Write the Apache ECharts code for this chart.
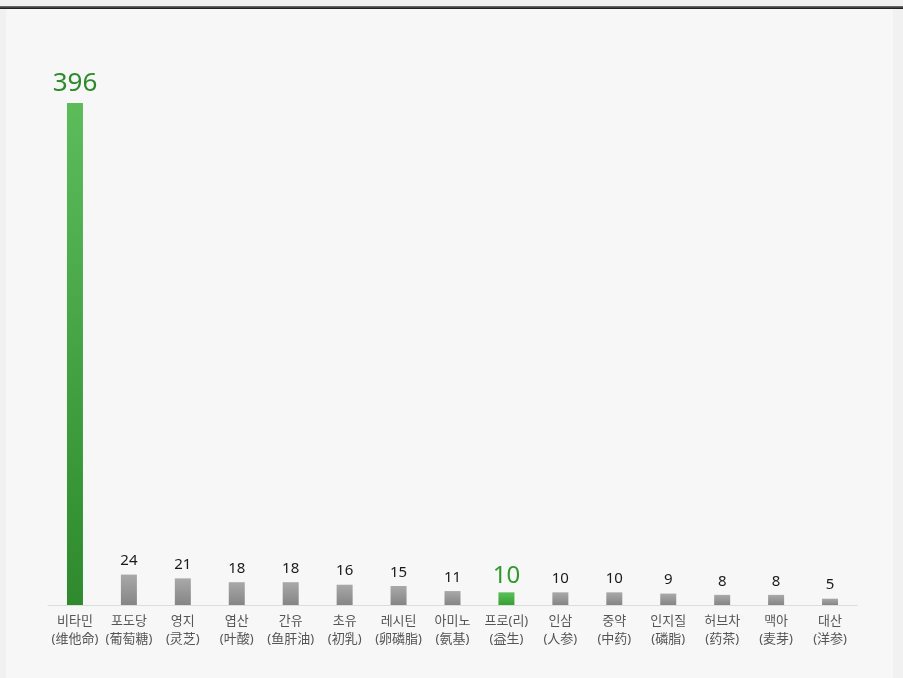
<!DOCTYPE html>
<html>
<head>
<meta charset="utf-8">
<script src="https://cdn.jsdelivr.net/npm/echarts@6/dist/echarts.min.js"></script>
<style>
  html, body { margin: 0; padding: 0; width: 903px; height: 678px; background: #f1f1f1; overflow: hidden; }
  #topline { position: absolute; left: 0; top: 6px; width: 903px; height: 3px; background: linear-gradient(#777, #111); }
  #panel { position: absolute; left: 6px; top: 9px; width: 887px; height: 669px; background: #f7f7f7; }
  #chart { position: absolute; left: 0; top: 0; width: 903px; height: 678px; }
</style>
</head>
<body>
<div id="topline"></div>
<div id="panel"></div>
<div id="chart"></div>
<script>
// Korean names with Chinese names in parentheses
const namesKo = ['비타민', '포도당', '영지', '엽산', '간유', '초유', '레시틴', '아미노', '프로(리)', '인삼', '중약', '인지질', '허브차', '맥아', '대산'];
const namesZh = ['(维他命)', '(葡萄糖)', '(灵芝)', '(叶酸)', '(鱼肝油)', '(初乳)', '(卵磷脂)', '(氨基)', '(益生)', '(人参)', '(中药)', '(磷脂)', '(药茶)', '(麦芽)', '(洋参)'];
const counts = [396, 24, 21, 18, 18, 16, 15, 11, 10, 10, 10, 9, 8, 8, 5];
const highlighted = [0, 8];

const FONT = '"Noto Sans", "Noto Sans CJK KR", sans-serif';

const grayFill = new echarts.graphic.LinearGradient(0, 0, 0, 1, [
  { offset: 0, color: '#a9a9a9' },
  { offset: 1, color: '#858585' }
]);
const bigGreen = new echarts.graphic.LinearGradient(0, 0, 0, 1, [
  { offset: 0, color: '#5cbc5a' },
  { offset: 1, color: '#2e8a2c' }
]);
const smallGreen = new echarts.graphic.LinearGradient(0, 0, 0, 1, [
  { offset: 0, color: '#5cc05a' },
  { offset: 1, color: '#36a033' }
]);

const barData = counts.map((v, i) => {
  const item = { value: v };
  if (i === 0) {
    item.itemStyle = { color: bigGreen };
    item.label = { color: '#2e8a2c', fontSize: 26, distance: 6 };
  } else if (highlighted.includes(i)) {
    item.itemStyle = { color: smallGreen };
    item.label = { color: '#2e9a2c', fontSize: 24, distance: 4 };
  }
  return item;
});

const chart = echarts.init(document.getElementById('chart'));
chart.setOption({
  animation: false,
  backgroundColor: 'transparent',
  grid: { left: 48, right: 46, top: 103, bottom: 73 },
  xAxis: {
    type: 'category',
    data: namesKo.map((k, i) => k + '\n' + namesZh[i]),
    axisLine: { lineStyle: { color: '#dcdcdc', width: 1 } },
    axisTick: { show: false },
    axisLabel: {
      color: '#555',
      fontFamily: FONT,
      fontSize: 13,
      lineHeight: 18,
      margin: 7,
      interval: 0
    }
  },
  yAxis: {
    type: 'value',
    min: 0,
    max: 396,
    show: false,
    splitLine: { show: false }
  },
  series: [{
    type: 'bar',
    data: barData,
    barWidth: 16,
    itemStyle: { color: grayFill },
    label: {
      show: true,
      position: 'top',
      color: '#1a1a1a',
      fontFamily: FONT,
      fontSize: 15,
      distance: 6
    }
  }]
});
</script>
</body>
</html>
